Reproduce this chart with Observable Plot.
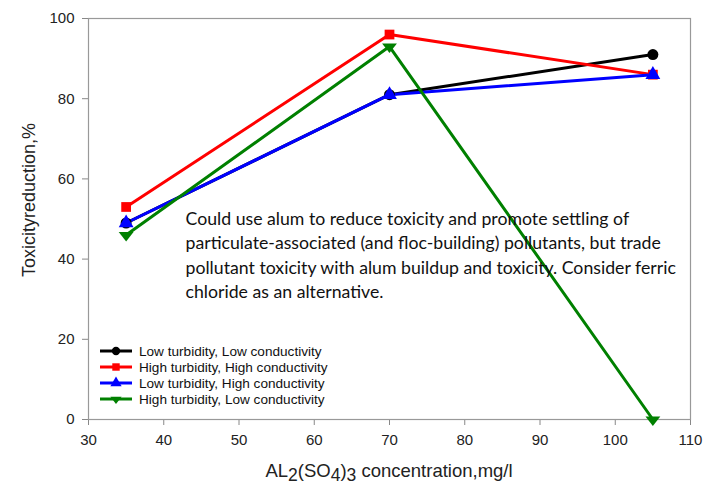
<!DOCTYPE html>
<html><head><meta charset="utf-8">
<script src="https://cdn.jsdelivr.net/npm/d3@7"></script>
<script src="https://cdn.jsdelivr.net/npm/@observablehq/plot@0.6"></script>
<style>body{margin:0;background:#fff}</style>
</head><body><div id="chart"></div>
<script>
const concentrations = [35, 70, 105];
const seriesNames = ["Low turbidity, Low conductivity","High turbidity, High conductivity","Low turbidity, High conductivity","High turbidity, Low conductivity"];
const lowLow = [49, 81, 91];
const highHigh = [53, 96, 86];
const lowHigh = [49, 81, 86];
const highLow = [46, 93, 0];
const xTicks = [30,40,50,60,70,80,90,100,110];
const yTicks = [0,20,40,60,80,100];
const noteLines = ["Could use alum to reduce toxicity and promote settling of","particulate-associated (and floc-building) pollutants, but trade","pollutant toxicity with alum buildup and toxicity. Consider ferric","chloride as an alternative."];

const colors = ["#000000","#ff0000","#0000ff","#008000"];
const triDown = {draw(ctx, size){const r=Math.sqrt(size/(Math.sqrt(3)*0.75));const h=r*Math.sqrt(3)/2;ctx.moveTo(0,r*0.75);ctx.lineTo(-h,-r*0.35);ctx.lineTo(h,-r*0.35);ctx.closePath();}};
const symbols = ["circle","square","triangle",triDown];
const allValues = [lowLow, highHigh, lowHigh, highLow];
const rows = [];
allValues.forEach((vals,i)=>vals.forEach((v,j)=>rows.push({series:seriesNames[i], x:concentrations[j], y:v, idx:i})));

const marks = [];
seriesNames.forEach((name,i)=>{
  const d = rows.filter(r=>r.idx===i);
  marks.push(Plot.line(d,{x:"x",y:"y",stroke:colors[i],strokeWidth:3}));
});
seriesNames.forEach((name,i)=>{
  const d = rows.filter(r=>r.idx===i);
  marks.push(Plot.dot(d,{x:"x",y:"y",fill:colors[i],stroke:"none",symbol:()=>symbols[i],r:5.5}));
});

const chart = Plot.plot({
  width:709, height:487,
  marginLeft:88, marginRight:19, marginTop:18, marginBottom:68,
  style:{fontFamily:"Liberation Sans, Arial, sans-serif", fontSize:"15px", color:"#222", background:"#fff"},
  x:{domain:[30,110], ticks:xTicks, tickSize:6, tickPadding:6, label:null},
  y:{domain:[0,100], ticks:yTicks, tickSize:6, tickPadding:6, label:null},
  symbol:{type:"identity"},
  marks:[
    Plot.axisX({ticks:xTicks, tickSize:6, tickPadding:9, stroke:"#888", fontSize:15, fill:"#222"}),
    Plot.axisY({ticks:yTicks, tickSize:6, tickPadding:8, stroke:"#888", fontSize:15, fill:"#222"}),
    Plot.frame({stroke:"#999", strokeWidth:1.2}),
    ...marks,
    Plot.text([noteLines.join("\n")],{frameAnchor:"top-left", dx:97, dy:189, textAnchor:"start", lineAnchor:"top", lineHeight:1.38, fontSize:17.7, fontFamily:"Lato, 'Open Sans', sans-serif", fill:"#111"})
  ]
});
document.getElementById("chart").appendChild(chart);

const svg = d3.select(chart);
svg.append("text").attr("transform","translate(35,200) rotate(-90)").attr("text-anchor","middle")
  .attr("font-family","Liberation Sans, Arial, sans-serif").attr("font-size",18).attr("fill","#222")
  .text("Toxicityreduction,%");
const xl = svg.append("text").attr("x",389).attr("y",477).attr("text-anchor","middle")
  .attr("font-family","Liberation Sans, Arial, sans-serif").attr("font-size",18.5).attr("fill","#222");
xl.append("tspan").text("AL");
xl.append("tspan").attr("dy",4).attr("font-size",17.5).text("2");
xl.append("tspan").attr("dy",-4).text("(SO");
xl.append("tspan").attr("dy",4).attr("font-size",17.5).text("4");
xl.append("tspan").attr("dy",-4).text(")");
xl.append("tspan").attr("dy",4).attr("font-size",17.5).text("3");
xl.append("tspan").attr("dy",-4).text(" concentration,mg/l");
const lg = svg.append("g").attr("font-family","Liberation Sans, Arial, sans-serif").attr("font-size",13.6).attr("fill","#111").attr("text-anchor","start");
seriesNames.forEach((name,i)=>{
  const y = 351 + i*16;
  lg.append("line").attr("x1",100).attr("x2",132).attr("y1",y).attr("y2",y).attr("stroke",colors[i]).attr("stroke-width",3);
  const sym = typeof symbols[i]==="string" ? ({circle:d3.symbolCircle,square:d3.symbolSquare,triangle:d3.symbolTriangle})[symbols[i]] : symbols[i];
  lg.append("path").attr("d",d3.symbol(sym,55)()).attr("transform",`translate(116,${y})`).attr("fill",colors[i]);
  lg.append("text").attr("x",139).attr("y",y).attr("dy","0.35em").attr("text-anchor","start").text(name);
});
</script></body></html>
